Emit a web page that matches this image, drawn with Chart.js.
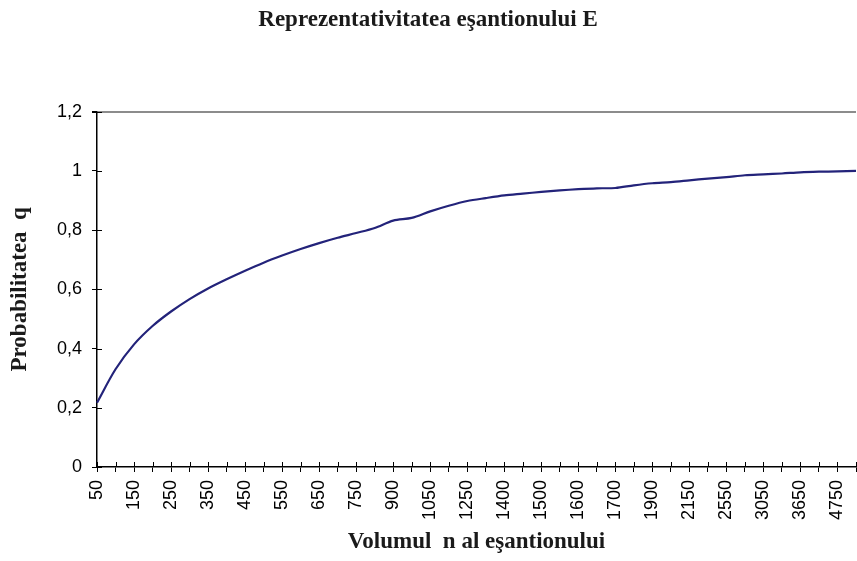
<!DOCTYPE html>
<html lang="ro">
<head>
<meta charset="UTF-8">
<title>Reprezentativitatea eşantionului E</title>
<script src="https://cdn.jsdelivr.net/npm/chart.js"></script>
<style>
  html, body { margin: 0; padding: 0; background: #fff; }
  #wrap { width: 857px; height: 561px; }
</style>
</head>
<body>
<div id="wrap"><canvas id="chart"></canvas></div>
<script>
// sample sizes n (every other one is labelled on the axis)
const volumes = [50, 100, 150, 200, 250, 300, 350, 400, 450, 500,
                 550, 600, 650, 700, 750, 800, 900, 950, 1050, 1150,
                 1250, 1300, 1400, 1450, 1500, 1550, 1600, 1650, 1700, 1800,
                 1900, 2000, 2150, 2350, 2550, 2800, 3050, 3350, 3650, 4200,
                 4750, 5000];
// probability q
const probability = [0.217, 0.330, 0.414, 0.476, 0.525, 0.567, 0.603, 0.634, 0.663, 0.690,
                     0.714, 0.736, 0.756, 0.774, 0.790, 0.807, 0.832, 0.841, 0.863, 0.882,
                     0.898, 0.908, 0.917, 0.923, 0.929, 0.934, 0.938, 0.941, 0.942, 0.951,
                     0.958, 0.962, 0.968, 0.974, 0.979, 0.985, 0.988, 0.991, 0.995, 0.997,
                     0.998, 1.000];

const serif = "'Times New Roman', 'Liberation Serif', serif";
const sans = "Arial, 'Liberation Sans', sans-serif";

// inner half of the tick marks (Excel style crossing ticks)
const crossTicks = {
  id: 'crossTicks',
  afterDraw(chart) {
    const ctx = chart.ctx, x = chart.scales.x, y = chart.scales.y;
    ctx.save();
    ctx.strokeStyle = '#000';
    ctx.lineWidth = 1;
    ctx.beginPath();
    x.ticks.forEach((t, i) => {
      const px = Math.round(x.getPixelForTick(i)) + 0.5;
      ctx.moveTo(px, y.bottom);
      ctx.lineTo(px, y.bottom - 5);
    });
    y.ticks.forEach((t, i) => {
      const py = Math.round(y.getPixelForTick(i)) + 0.5;
      ctx.moveTo(x.left, py);
      ctx.lineTo(x.left + 5, py);
    });
    ctx.stroke();
    ctx.restore();
  }
};

new Chart(document.getElementById('chart'), {
  type: 'line',
  data: {
    labels: volumes,
    datasets: [{
      data: probability,
      borderColor: '#23237a',
      borderWidth: 2.2,
      pointRadius: 0,
      tension: 0.3,
      fill: false
    }]
  },
  options: {
    responsive: true,
    maintainAspectRatio: false,
    animation: false,
    layout: { padding: { left: 0, right: 1, top: 0, bottom: 0 } },
    plugins: {
      legend: { display: false },
      tooltip: { enabled: false },
      title: {
        display: true,
        text: 'Reprezentativitatea eşantionului E',
        color: '#1a1a1a',
        font: { family: serif, size: 23, weight: 'bold' },
        padding: { top: 6, bottom: 78 }
      }
    },
    scales: {
      x: {
        type: 'category',
        offset: false,
        border: { color: '#000', width: 1.5 },
        grid: { drawOnChartArea: false, tickLength: 5, tickColor: '#000' },
        ticks: {
          autoSkip: false,
          maxRotation: 90,
          minRotation: 90,
          padding: 8,
          color: '#000',
          font: { family: sans, size: 18 },
          callback: function (v, i) { return i % 2 === 0 ? String(volumes[i]) : ''; }
        },
        title: {
          display: true,
          text: 'Volumul  n al eşantionului',
          color: '#1a1a1a',
          font: { family: serif, size: 23, weight: 'bold' },
          padding: { top: 0, bottom: 5 }
        },
        afterFit(scale) {
          scale.height = 94;
          scale.paddingLeft = 0;
          scale.paddingRight = 0;
        }
      },
      y: {
        min: 0,
        max: 1.2,
        border: { color: '#000', width: 1.5 },
        grid: {
          drawOnChartArea: true,
          tickLength: 5,
          tickColor: '#000',
          color: ctx => (ctx.tick && Math.abs(ctx.tick.value - 1.2) < 1e-6) ? '#8c8c8c' : 'rgba(0,0,0,0)',
          lineWidth: ctx => (ctx.tick && Math.abs(ctx.tick.value - 1.2) < 1e-6) ? 2 : 1
        },
        ticks: {
          stepSize: 0.2,
          padding: 10,
          color: '#000',
          font: { family: sans, size: 18 },
          callback: v => String(Math.round(v * 10) / 10).replace('.', ',')
        },
        title: {
          display: true,
          text: 'Probabilitatea  q',
          color: '#1a1a1a',
          font: { family: serif, size: 23, weight: 'bold' },
          padding: { top: 6, bottom: 0 }
        },
        afterFit(scale) {
          scale.width = 97;
          scale.paddingTop = 0;
          scale.paddingBottom = 0;
        }
      }
    }
  },
  plugins: [crossTicks]
});
</script>
</body>
</html>
